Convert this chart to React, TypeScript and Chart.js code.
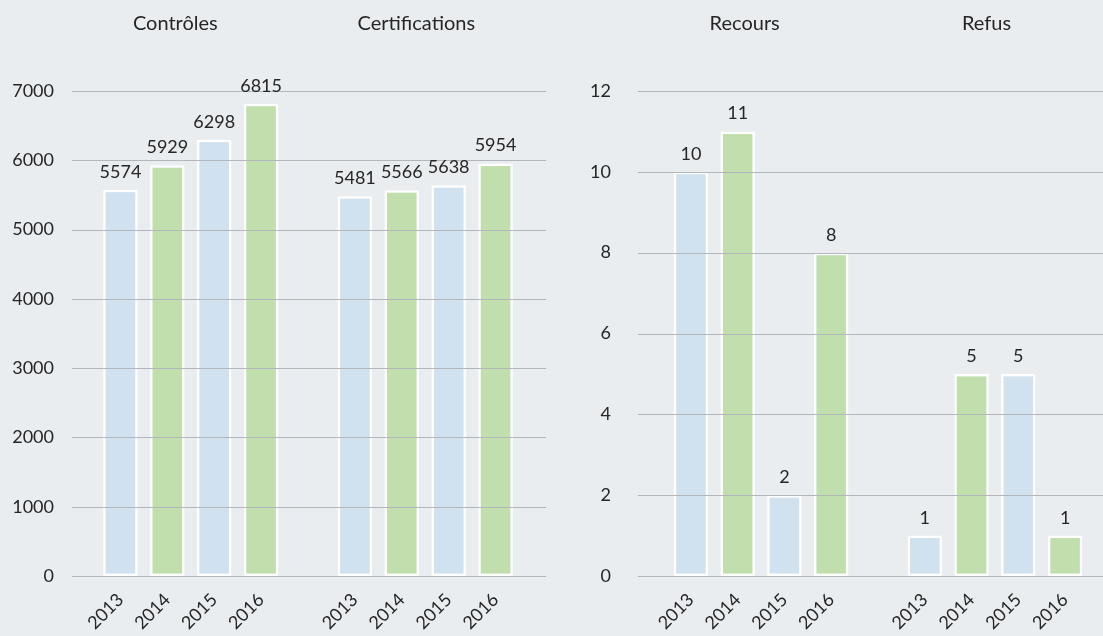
import React, { useEffect, useRef } from 'react';
import { Chart, registerables } from 'chart.js';

Chart.register(...registerables);

// ---- data ----
const YEARS = ['2013', '2014', '2015', '2016'];
const LEFT_GROUPS = ['Contrôles', 'Certifications'];
const CONTROLES = [5574, 5929, 6298, 6815];
const CERTIFICATIONS = [5481, 5566, 5638, 5954];
const RIGHT_GROUPS = ['Recours', 'Refus'];
const RECOURS = [10, 11, 2, 8];
const REFUS = [1, 5, 5, 1];
const LEFT_Y_MAX = 7000;
const LEFT_Y_STEP = 1000;
const RIGHT_Y_MAX = 12;
const RIGHT_Y_STEP = 2;

// ---- style ----
const W = 1103;
const H = 636;
const BG = '#e9edf0';
const BLUE = '#d0e1f0';
const GREEN = '#c0dfad';
const TEXT = '#262626';
const GRID = '#b3b7bb';
const FONT = 'Lato, "Open Sans", sans-serif';
const FS = 18;
const TITLE_FS = 20;

type PanelLayout = {
  yWidth: number;
  yPad: number;
  padRight: number;
  gridFrom: number;
  gridTo: number;
  titleOffsets: number[];
};

const LEFT_LAYOUT: PanelLayout = { yWidth: 97, yPad: 43, padRight: 584, gridFrom: 72, gridTo: 546, titleOffsets: [1.17, 1.31] };
const RIGHT_LAYOUT: PanelLayout = { yWidth: 667.5, yPad: 56.5, padRight: 14.5, gridFrom: 638, gridTo: 1103, titleOffsets: [1.15, 1.32] };

function makeChart(canvas: HTMLCanvasElement, groups: string[], a: number[], b: number[], yMax: number, yStep: number, L: PanelLayout) {
  const labels = [...YEARS, '', ...YEARS];
  const values: (number | null)[] = [...a, null, ...b];
  const colors = labels.map((l) => (l === '' ? 'rgba(0,0,0,0)' : YEARS.indexOf(l) % 2 === 0 ? BLUE : GREEN));

  const overlay = {
    id: 'overlay',
    afterDatasetsDraw(chart: any) {
      const ctx = chart.ctx;
      const y = chart.scales.y;
      ctx.save();
      ctx.strokeStyle = GRID;
      ctx.lineWidth = 1;
      y.ticks.forEach((t: any) => {
        const py = Math.round(y.getPixelForValue(t.value)) + 0.5;
        ctx.beginPath();
        ctx.moveTo(L.gridFrom, py);
        ctx.lineTo(L.gridTo, py);
        ctx.stroke();
      });
      ctx.fillStyle = TEXT;
      ctx.font = `${FS}px ${FONT}`;
      ctx.textAlign = 'center';
      ctx.textBaseline = 'alphabetic';
      const meta = chart.getDatasetMeta(0);
      meta.data.forEach((el: any, i: number) => {
        const v = values[i];
        if (v == null) return;
        ctx.fillText(String(v), el.x, el.y - 12);
      });
      const xs = chart.scales.x;
      ctx.font = `${TITLE_FS}px ${FONT}`;
      groups.forEach((g, gi) => {
        const px = xs.getPixelForValue(gi * (YEARS.length + 1) + L.titleOffsets[gi]);
        ctx.fillText(g, px, 30);
      });
      ctx.restore();
    },
  };

  return new Chart(canvas, {
    type: 'bar',
    data: {
      labels,
      datasets: [
        {
          data: values,
          backgroundColor: colors,
          borderColor: labels.map((l) => (l === '' ? 'rgba(0,0,0,0)' : '#ffffff')),
          borderWidth: 2.5,
          borderSkipped: false,
          barPercentage: 0.736,
          categoryPercentage: 1,
        },
      ],
    },
    options: {
      animation: false,
      responsive: false,
      devicePixelRatio: 1,
      events: [],
      layout: { padding: { left: 0, right: L.padRight, top: 91, bottom: 0 } },
      plugins: { legend: { display: false }, tooltip: { enabled: false }, title: { display: false } },
      scales: {
        x: {
          grid: { display: false, drawTicks: false },
          border: { display: false },
          ticks: {
            autoSkip: false,
            maxRotation: 45,
            minRotation: 45,
            color: TEXT,
            font: { family: FONT, size: FS },
            padding: 13,
          },
          afterFit: (s: any) => {
            s.height = 60;
          },
        },
        y: {
          min: 0,
          max: yMax,
          grid: { display: false, drawTicks: false },
          border: { display: false },
          ticks: {
            stepSize: yStep,
            color: TEXT,
            font: { family: FONT, size: FS },
            padding: L.yPad,
            callback: (v: any) => String(v),
          },
          afterFit: (s: any) => {
            s.width = L.yWidth;
            s.paddingTop = 0;
            s.paddingBottom = 0;
          },
        },
      },
    },
    plugins: [overlay],
  });
}

export default function App() {
  const leftRef = useRef<HTMLCanvasElement>(null);
  const rightRef = useRef<HTMLCanvasElement>(null);

  useEffect(() => {
    document.body.style.margin = '0';
    document.body.style.background = BG;
    const c1 = makeChart(leftRef.current!, LEFT_GROUPS, CONTROLES, CERTIFICATIONS, LEFT_Y_MAX, LEFT_Y_STEP, LEFT_LAYOUT);
    const c2 = makeChart(rightRef.current!, RIGHT_GROUPS, RECOURS, REFUS, RIGHT_Y_MAX, RIGHT_Y_STEP, RIGHT_LAYOUT);
    return () => {
      c1.destroy();
      c2.destroy();
    };
  }, []);

  const cs: React.CSSProperties = { position: 'absolute', left: 0, top: 0, width: W, height: H };
  return (
    <div style={{ position: 'relative', width: W, height: H, background: BG, overflow: 'hidden' }}>
      <canvas ref={leftRef} width={W} height={H} style={cs} />
      <canvas ref={rightRef} width={W} height={H} style={cs} />
    </div>
  );
}
